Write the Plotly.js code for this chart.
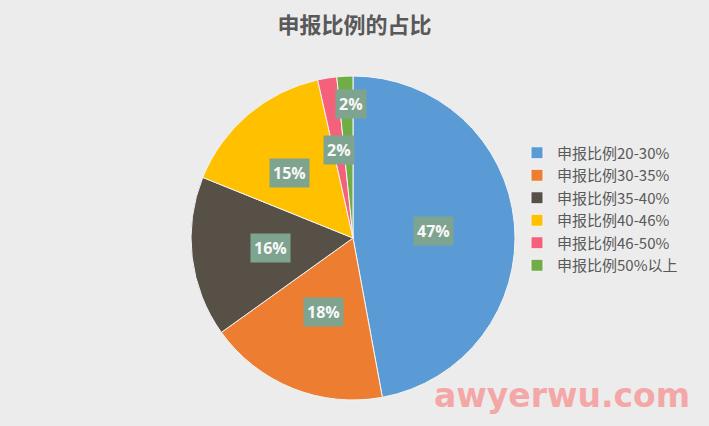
<!DOCTYPE html>
<html><head><meta charset="utf-8">
<script src="https://cdn.plot.ly/plotly-3.0.1.min.js"></script>
<style>html,body{margin:0;padding:0;background:#ececec;}</style>
</head><body>
<div id="chart" style="width:709px;height:426px;"></div>
<script>
const categories = ["申报比例20-30%","申报比例30-35%","申报比例35-40%","申报比例40-46%","申报比例46-50%","申报比例50%以上"];
const values = [47.1, 18.0, 16.0, 15.4, 1.9, 1.6];
const colors = ["#5b9bd5","#ed7d31","#565046","#ffc000","#f5607a","#70ad47"];
const chartTitle = "申报比例的占比";
const watermark = "awyerwu.com";

const W = 709, H = 426;
const cx = 353, cy = 238, R = 162;
const labelRadius = [0.5, 0.49, 0.51, 0.56, 0.55, 0.83];
const labelAngleShift = [0, 0, 0, -4, 0, 2];

const total = values.reduce((a,b)=>a+b,0);
let cum = 0;
const annotations = [];
values.forEach((v,i)=>{
  const mid = (cum + v/2)/total*360 + labelAngleShift[i];
  cum += v;
  const th = mid*Math.PI/180;
  const x = cx + labelRadius[i]*R*Math.sin(th);
  const y = cy - labelRadius[i]*R*Math.cos(th);
  annotations.push({
    x: x/W, y: 1 - y/H, xref:'paper', yref:'paper', showarrow:false,
    text: Math.round(v/total*100) + '%',
    font:{family:'Open Sans, DejaVu Sans, sans-serif', size:16, color:'#f8f8f8', weight:'bold'},
    bgcolor:'#7ea38f', borderpad:3, xanchor:'center', yanchor:'middle'
  });
});
annotations.push({
  x: 562/W, y: 1 - 395/H, xref:'paper', yref:'paper', showarrow:false,
  text: watermark,
  font:{family:'DejaVu Sans, sans-serif', size:33, color:'#f4a7a7', weight:'bold'},
  xanchor:'center', yanchor:'middle'
});

const data = [{
  type:'pie', labels:categories, values:values, sort:false, direction:'clockwise', rotation:0,
  marker:{colors:colors, line:{color:'#f4f4f4', width:1}},
  textinfo:'none', hoverinfo:'label+percent',
  domain:{x:[(cx-R)/W,(cx+R)/W], y:[1-(cy+R)/H, 1-(cy-R)/H]}
}];

const layout = {
  width:W, height:H,
  margin:{l:0,r:0,t:0,b:0},
  paper_bgcolor:'#ececec', plot_bgcolor:'#ececec',
  title:{text:chartTitle, x:0.5, xanchor:'center', y:1-25/H, yanchor:'middle',
    font:{family:'Noto Sans CJK SC, sans-serif', size:22, color:'#595959', weight:'bold'}},
  showlegend:true,
  legend:{x:517/W, y:1-209/H, xanchor:'left', yanchor:'middle',
    font:{family:'Noto Sans CJK SC, sans-serif', size:15, color:'#595959'},
    bgcolor:'rgba(0,0,0,0)', itemwidth:30},
  annotations:annotations
};
Plotly.newPlot('chart', data, layout, {displayModeBar:false, staticPlot:true});
</script>
</body></html>
